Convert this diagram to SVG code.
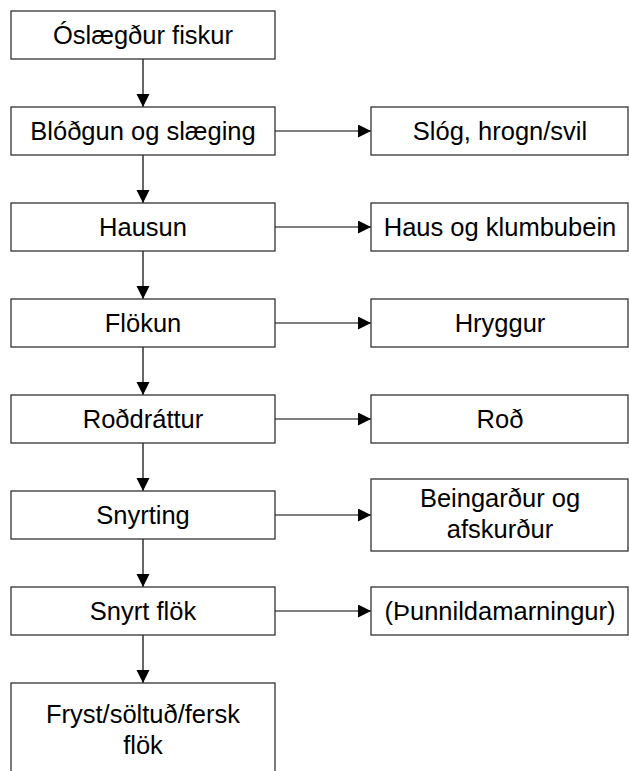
<svg xmlns="http://www.w3.org/2000/svg" width="629" height="771" viewBox="0 0 629 771">
<style>
.box{fill:#fff;stroke:#333;stroke-width:1.3}
.t{font-family:"Liberation Sans",Arial,sans-serif;font-size:25.5px;fill:#000;text-anchor:middle}
.c{stroke:#000;stroke-width:1.2;fill:none}
</style>
<defs>
<marker id="ah" markerUnits="userSpaceOnUse" markerWidth="14" markerHeight="14" refX="13" refY="6.5" orient="auto">
<path d="M0,0 L13,6.5 L0,13 Z" fill="#000"/>
</marker>
</defs>
<rect width="629" height="771" fill="#fff"/>
<g id="connectors">
<line class="c" x1="143" y1="59" x2="143" y2="107" marker-end="url(#ah)"/>
<line class="c" x1="143" y1="155" x2="143" y2="203" marker-end="url(#ah)"/>
<line class="c" x1="143" y1="251" x2="143" y2="299" marker-end="url(#ah)"/>
<line class="c" x1="143" y1="347" x2="143" y2="395" marker-end="url(#ah)"/>
<line class="c" x1="143" y1="443" x2="143" y2="491" marker-end="url(#ah)"/>
<line class="c" x1="143" y1="539" x2="143" y2="587" marker-end="url(#ah)"/>
<line class="c" x1="143" y1="635" x2="143" y2="683" marker-end="url(#ah)"/>
<line class="c" x1="275" y1="131" x2="371" y2="131" marker-end="url(#ah)"/>
<line class="c" x1="275" y1="227" x2="371" y2="227" marker-end="url(#ah)"/>
<line class="c" x1="275" y1="323" x2="371" y2="323" marker-end="url(#ah)"/>
<line class="c" x1="275" y1="419" x2="371" y2="419" marker-end="url(#ah)"/>
<line class="c" x1="275" y1="515" x2="371" y2="515" marker-end="url(#ah)"/>
<line class="c" x1="275" y1="611" x2="371" y2="611" marker-end="url(#ah)"/>
</g>
<g id="n1"><rect class="box" x="11" y="11" width="264" height="48"/><text class="t" x="143" y="43.5">Óslægður fiskur</text></g>
<g id="n2"><rect class="box" x="11" y="107" width="264" height="48"/><text class="t" x="143" y="139.5">Blóðgun og slæging</text></g>
<g id="n3"><rect class="box" x="11" y="203" width="264" height="48"/><text class="t" x="143" y="235.5">Hausun</text></g>
<g id="n4"><rect class="box" x="11" y="299" width="264" height="48"/><text class="t" x="143" y="331.5">Flökun</text></g>
<g id="n5"><rect class="box" x="11" y="395" width="264" height="48"/><text class="t" x="143" y="427.5">Roðdráttur</text></g>
<g id="n6"><rect class="box" x="11" y="491" width="264" height="48"/><text class="t" x="143" y="523.5">Snyrting</text></g>
<g id="n7"><rect class="box" x="11" y="587" width="264" height="48"/><text class="t" x="143" y="619.5">Snyrt flök</text></g>
<g id="n8"><rect class="box" x="11" y="683" width="264" height="96"/><text class="t" x="143" y="722.5">Fryst/söltuð/fersk</text><text class="t" x="143" y="754">flök</text></g>
<g id="r1"><rect class="box" x="371" y="107" width="257" height="48"/><text class="t" x="500" y="139.5">Slóg, hrogn/svil</text></g>
<g id="r2"><rect class="box" x="371" y="203" width="257" height="48"/><text class="t" x="500" y="235.5">Haus og klumbubein</text></g>
<g id="r3"><rect class="box" x="371" y="299" width="257" height="48"/><text class="t" x="500" y="331.5">Hryggur</text></g>
<g id="r4"><rect class="box" x="371" y="395" width="257" height="48"/><text class="t" x="500" y="427.5">Roð</text></g>
<g id="r5"><rect class="box" x="371" y="479" width="257" height="72"/><text class="t" x="500" y="506.5">Beingarður og</text><text class="t" x="500" y="538">afskurður</text></g>
<g id="r6"><rect class="box" x="371" y="587" width="257" height="48"/><text class="t" x="500" y="619.5">(Þunnildamarningur)</text></g>
</svg>
